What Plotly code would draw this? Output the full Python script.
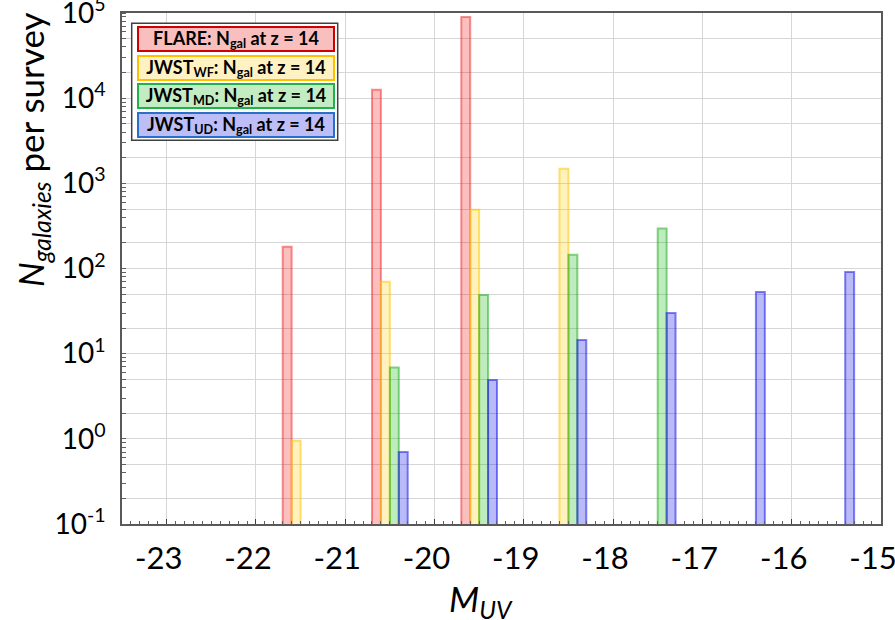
import plotly.graph_objects as go

# ---- data ----
mag_bins = [-21.5, -20.5, -19.5, -18.5, -17.5, -16.5, -15.5]
flare_n = [180, 12600, 90000, None, None, None, None]
jwst_wf_n = [0.95, 70, 490, 1480, None, None, None]
jwst_md_n = [None, 6.9, 49, 145, 295, None, None]
jwst_ud_n = [None, 0.70, 4.9, 14.5, 30, 53, 91]

series_names = ["FLARE: N<sub>gal</sub> at z = 14",
                "JWST<sub>WF</sub>: N<sub>gal</sub> at z = 14",
                "JWST<sub>MD</sub>: N<sub>gal</sub> at z = 14",
                "JWST<sub>UD</sub>: N<sub>gal</sub> at z = 14"]
series_vals = [flare_n, jwst_wf_n, jwst_md_n, jwst_ud_n]

x_ticks = [-23, -22, -21, -20, -19, -18, -17, -16, -15]
y_decades = [-1, 0, 1, 2, 3, 4, 5]

# ---- styles ----
bar_fill = ["rgba(240,0,0,0.25)", "rgba(255,204,0,0.25)", "rgba(0,180,0,0.25)", "rgba(0,0,230,0.27)"]
bar_line = ["rgba(240,40,40,0.5)", "rgba(255,200,0,0.55)", "rgba(20,170,20,0.5)", "rgba(30,30,230,0.55)"]
leg_fill = ["#F9BFBF", "#FFF2C2", "#C3ECC3", "#BDBDF7"]
leg_line = ["#D00000", "#FFC000", "#22B14C", "#2870C8"]

FONT = "Lato"
W, H = 895, 620
ML, MR, MT, MB = 122, 14, 13, 96
PW, PH = W - ML - MR, H - MT - MB

def px2paper(px, py):
    return (px - ML) / PW, (H - MB - py) / PH

fig = go.Figure()
for name, vals, fc, lc in zip(series_names, series_vals, bar_fill, bar_line):
    fig.add_trace(go.Bar(x=mag_bins, y=vals, name=name, marker=dict(color=fc, line=dict(color=lc, width=2)),
                         showlegend=False))

# grid/tick values on the log axis: 1, 2, 5 x 10^n
ytickvals, yticktext = [], []
for d in y_decades:
    for m in (1, 2, 5):
        v = m * 10.0 ** d
        if v <= 10.0 ** y_decades[-1] * 1.0001:
            ytickvals.append(v)
            yticktext.append(f"10<sup>{d}</sup>" if m == 1 else "")

fig.update_layout(
    width=W, height=H,
    margin=dict(l=ML, r=MR, t=MT, b=MB, autoexpand=False),
    paper_bgcolor="white", plot_bgcolor="white",
    barmode="group", bargap=0.6, bargroupgap=0,
    font=dict(family=FONT, color="black"),
    xaxis=dict(range=[-23.5, -14.999], tickvals=x_ticks, ticktext=[str(t) for t in x_ticks],
               ticks="inside", ticklen=5, tickcolor="#404040", tickwidth=1, automargin=False,
               minor=dict(dtick=0.1, tick0=0, ticks="inside", ticklen=3, tickcolor="#606060", showgrid=False),
               showgrid=True, gridcolor="#D6D6D6", gridwidth=1.3,
               showline=True, linecolor="#595959", linewidth=1.5, mirror=True,
               tickfont=dict(size=31, family=FONT), ticklabelshift=-8, ticklabelstandoff=6,
               ticklabeloverflow="allow", zeroline=False),
    yaxis=dict(type="log", range=[-1, 5.0005], tickmode="array", tickvals=ytickvals, ticktext=yticktext,
               ticks="", showgrid=True, gridcolor="#D6D6D6", gridwidth=1.3, automargin=False,
               minor=dict(dtick="D1", ticks="inside", ticklen=4, tickcolor="#606060", showgrid=False),
               showline=True, linecolor="#595959", linewidth=1.5, mirror=True,
               tickfont=dict(size=28, family=FONT), ticklabelstandoff=9,
               ticklabeloverflow="allow", zeroline=False),
)

# axis titles
ax, ay = px2paper(32, 150)
fig.add_annotation(xref="paper", yref="paper", x=ax, y=ay, xanchor="center", yanchor="middle",
                   text="<i>N<sub>galaxies</sub></i> per survey", textangle=-90, showarrow=False,
                   font=dict(size=35, family=FONT, color="black"))
bx, by = px2paper(481, 600)
fig.add_annotation(xref="paper", yref="paper", x=bx, y=by, xanchor="center", yanchor="middle",
                   text="<i>M<sub>UV</sub></i>", showarrow=False,
                   font=dict(size=35, family=FONT, color="black"))

# custom legend
x0, y0 = px2paper(131.7, 23.3)
x1, y1 = px2paper(337.7, 140.3)
fig.add_shape(type="rect", xref="paper", yref="paper", x0=x0, y0=y0, x1=x1, y1=y1,
              line=dict(color="#404040", width=1.5), fillcolor="white", layer="above")
leg_centers_y = [39.2, 67.9, 96.3, 125.2]
for name, fc, lc, cy in zip(series_names, leg_fill, leg_line, leg_centers_y):
    lx, ly = px2paper(235.5, cy)
    fig.add_annotation(xref="paper", yref="paper", x=lx, y=ly, xanchor="center", yanchor="middle",
                       text=f"<b>{name}</b>", showarrow=False, width=194, height=22, borderpad=0,
                       bgcolor=fc, bordercolor=lc, borderwidth=2,
                       font=dict(size=18, family=FONT, color="black"))

fig.write_html("out.html", config={"displayModeBar": False},
               post_script="document.body.style.margin='0';document.body.style.overflow='hidden';")
